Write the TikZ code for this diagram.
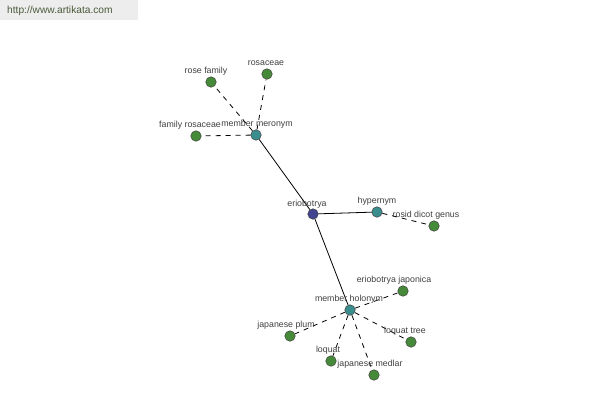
\documentclass[tikz,border=0pt]{standalone}
\usepackage{fontspec}
\setmainfont{Liberation Sans}
\begin{document}
\begin{tikzpicture}[x=1pt,y=-1pt,
  dot/.style={circle,draw=black!75,line width=0.5pt,inner sep=0pt,minimum size=10.5pt},
  leaf/.style={dot,fill=leafgreen},
  rel/.style={dot,fill=relteal},
  root/.style={dot,fill=rootblue},
  lbl/.style={font=\fontsize{8.8}{9}\selectfont,text=black!75,inner sep=0pt},
  solidedge/.style={draw=black,line width=0.8pt},
  dashedge/.style={draw=black,line width=0.8pt,dash pattern=on 5pt off 5pt}]
\definecolor{leafgreen}{HTML}{448A38}
\definecolor{relteal}{HTML}{3A8E8E}
\definecolor{rootblue}{HTML}{42448F}
\definecolor{wmtext}{HTML}{4A5A3A}
\useasboundingbox[fill=white] (0,0) rectangle (600,400);
\fill[black!7] (0,0) rectangle (138,20);
\node[font=\fontsize{10.2}{11}\selectfont,inner sep=0pt,anchor=west,text=wmtext] (wm) at (7,11) {http://www.artikata.com};
% nodes
\node[root] (erio) at (313,214) {};
\node[rel] (hyp) at (377,212) {};
\node[leaf] (rosid) at (434,226) {};
\node[rel] (mer) at (256,135) {};
\node[leaf] (rosefam) at (211,82) {};
\node[leaf] (rosaceae) at (267,74) {};
\node[leaf] (famros) at (196,136) {};
\node[rel] (hol) at (350,310) {};
\node[leaf] (japonica) at (403,291) {};
\node[leaf] (plum) at (290,336) {};
\node[leaf] (loquat) at (331,361) {};
\node[leaf] (medlar) at (374,375) {};
\node[leaf] (ltree) at (411,342) {};
% edges
\draw[solidedge] (erio) -- (mer);
\draw[solidedge] (erio) -- (hyp);
\draw[solidedge] (erio) -- (hol);
\draw[dashedge] (hyp) -- (rosid);
\draw[dashedge] (mer) -- (rosefam);
\draw[dashedge] (mer) -- (rosaceae);
\draw[dashedge] (mer) -- (famros);
\draw[dashedge] (hol) -- (japonica);
\draw[dashedge] (hol) -- (plum);
\draw[dashedge] (hol) -- (loquat);
\draw[dashedge] (hol) -- (medlar);
\draw[dashedge] (hol) -- (ltree);
% labels
\node[lbl] (l-erio) at (307,204) {eriobotrya};
\node[lbl] (l-hyp) at (377,201) {hypernym};
\node[lbl] (l-rosid) at (426,215) {rosid dicot genus};
\node[lbl] (l-mer) at (257,124) {member meronym};
\node[lbl] (l-rosefam) at (206,71) {rose family};
\node[lbl] (l-rosaceae) at (266,63) {rosaceae};
\node[lbl] (l-famros) at (190,125) {family rosaceae};
\node[lbl] (l-hol) at (349,299) {member holonym};
\node[lbl] (l-japonica) at (394,280) {eriobotrya japonica};
\node[lbl] (l-plum) at (286,325) {japanese plum};
\node[lbl] (l-loquat) at (328,350) {loquat};
\node[lbl] (l-medlar) at (370,364) {japanese medlar};
\node[lbl] (l-ltree) at (405,331) {loquat tree};
\end{tikzpicture}
\end{document}
